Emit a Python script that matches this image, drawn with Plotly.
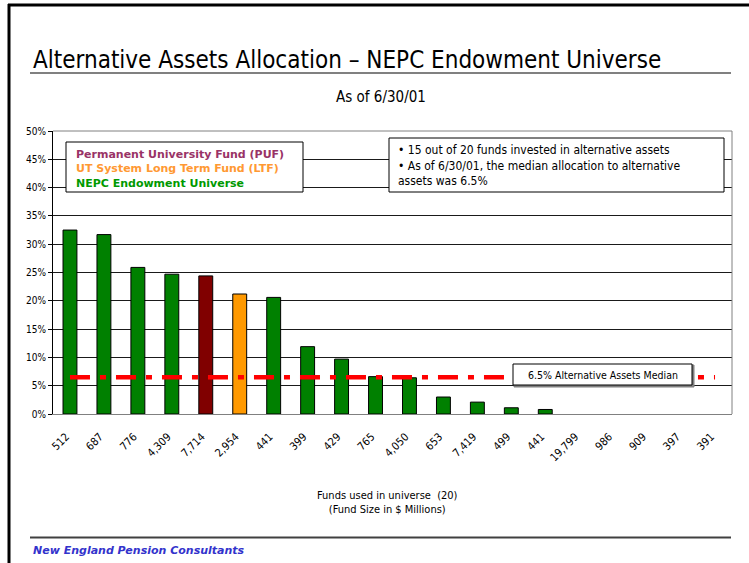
import plotly.graph_objects as go

# ---- data ----
fund_sizes = ["512", "687", "776", "4,309", "7,714", "2,954", "441", "399", "429", "765",
              "4,050", "653", "7,419", "499", "441", "19,799", "986", "909", "397", "391"]
allocation_pct = [32.5, 31.7, 25.9, 24.7, 24.4, 21.2, 20.6, 11.9, 9.7, 6.6,
                  6.4, 3.0, 2.1, 1.1, 0.8, 0, 0, 0, 0, 0]
fund_group = ["NEPC", "NEPC", "NEPC", "NEPC", "PUF", "LTF", "NEPC", "NEPC", "NEPC", "NEPC",
              "NEPC", "NEPC", "NEPC", "NEPC", "NEPC", "NEPC", "NEPC", "NEPC", "NEPC", "NEPC"]
median_pct = 6.5
y_ticks = [0, 5, 10, 15, 20, 25, 30, 35, 40, 45, 50]

group_colors = {"NEPC": "#008000", "PUF": "#800000", "LTF": "#FF9900"}

W, H = 749, 563
L, R, T, B = 53, 17, 131, 149
PW, PH = W - L - R, H - T - B

def px(x):
    return (x - L) / PW

def py(y):
    return (H - B - y) / PH

xpos = list(range(len(fund_sizes)))

fig = go.Figure()
fig.add_trace(go.Bar(
    x=xpos, y=allocation_pct,
    marker=dict(color=[group_colors[g] for g in fund_group],
                line=dict(color="#000000", width=[1 if v > 0 else 0 for v in allocation_pct])),
    width=0.41, showlegend=False, hoverinfo="skip",
))
fig.add_trace(go.Scatter(
    x=[xpos[0], xpos[-1]], y=[median_pct, median_pct], mode="lines",
    line=dict(color="#FF0000", width=4.5, dash="20px,10px,6px,10px"),
    showlegend=False, hoverinfo="skip",
))

COND = "DejaVu Sans Condensed"
shapes = [
    # page border lines
    dict(type="line", xref="paper", yref="paper", x0=px(8), x1=px(749), y0=py(5), y1=py(5),
         line=dict(color="#000000", width=3)),
    dict(type="line", xref="paper", yref="paper", x0=px(9), x1=px(9), y0=py(4), y1=py(563),
         line=dict(color="#000000", width=3)),
    # title underline
    dict(type="line", xref="paper", yref="paper", x0=px(30), x1=px(731), y0=py(73), y1=py(73),
         line=dict(color="#808080", width=2)),
    # footer line
    dict(type="line", xref="paper", yref="paper", x0=px(30), x1=px(731), y0=py(537.5), y1=py(537.5),
         line=dict(color="#404040", width=2)),
    # plot border top / right
    dict(type="line", xref="paper", yref="paper", x0=0, x1=1, y0=1, y1=1,
         line=dict(color="#808080", width=1)),
    dict(type="line", xref="paper", yref="paper", x0=1, x1=1, y0=0, y1=1,
         line=dict(color="#808080", width=1)),
    # legend box
    dict(type="rect", xref="paper", yref="paper", x0=px(66), x1=px(303), y0=py(192), y1=py(142),
         line=dict(color="#000000", width=1), fillcolor="#FFFFFF", layer="above"),
    # text box
    dict(type="rect", xref="paper", yref="paper", x0=px(389), x1=px(724), y0=py(192), y1=py(138),
         line=dict(color="#000000", width=1), fillcolor="#FFFFFF", layer="above"),
    # median label box
    dict(type="rect", xref="paper", yref="paper", x0=px(514), x1=px(694), y0=py(387), y1=py(365),
         line=dict(color="#808080", width=1), fillcolor="#808080", layer="above"),
    dict(type="rect", xref="paper", yref="paper", x0=px(513), x1=px(692), y0=py(385), y1=py(364),
         line=dict(color="#000000", width=1), fillcolor="#FFFFFF", layer="above"),
]

annotations = [
    dict(text="Alternative Assets Allocation – NEPC Endowment Universe", xref="paper", yref="paper",
         x=px(31), y=py(60), xanchor="left", yanchor="middle", showarrow=False,
         font=dict(family=COND, size=24, color="#000000")),
    dict(text="As of 6/30/01", xref="paper", yref="paper",
         x=px(381), y=py(97), xanchor="center", yanchor="middle", showarrow=False,
         font=dict(family=COND, size=15, color="#000000")),
    dict(text="Permanent University Fund (PUF)", xref="paper", yref="paper",
         x=px(74), y=py(154), xanchor="left", yanchor="middle", showarrow=False,
         font=dict(family="DejaVu Sans", size=11, color="#993366", weight="bold")),
    dict(text="UT System Long Term Fund (LTF)", xref="paper", yref="paper",
         x=px(74), y=py(168.5), xanchor="left", yanchor="middle", showarrow=False,
         font=dict(family="DejaVu Sans", size=11, color="#FF9933", weight="bold")),
    dict(text="NEPC Endowment Universe", xref="paper", yref="paper",
         x=px(74), y=py(183), xanchor="left", yanchor="middle", showarrow=False,
         font=dict(family="DejaVu Sans", size=11, color="#009900", weight="bold")),
    dict(text="• 15 out of 20 funds invested in alternative assets<br>"
              "• As of 6/30/01, the median allocation to alternative<br>"
              "assets was 6.5%", xref="paper", yref="paper",
         x=px(396), y=py(165), xanchor="left", yanchor="middle", align="left", showarrow=False,
         font=dict(family=COND, size=12, color="#000000")),
    dict(text="6.5% Alternative Assets Median", xref="paper", yref="paper",
         x=px(602.5), y=py(375), xanchor="center", yanchor="middle", showarrow=False,
         font=dict(family=COND, size=10.5, color="#000000")),
    dict(text="Funds used in universe  (20)<br>(Fund Size in $ Millions)", xref="paper", yref="paper",
         x=px(387), y=py(502), xanchor="center", yanchor="middle", showarrow=False,
         font=dict(family=COND, size=11, color="#000000")),
    dict(text="<b><i>New England Pension Consultants</i></b>", xref="paper", yref="paper",
         x=px(31), y=py(550), xanchor="left", yanchor="middle", showarrow=False,
         font=dict(family="DejaVu Sans", size=11, color="#3333CC")),
]

fig.update_layout(
    width=W, height=H,
    margin=dict(l=L, r=R, t=T, b=B),
    paper_bgcolor="#FFFFFF", plot_bgcolor="#FFFFFF",
    shapes=shapes, annotations=annotations,
    xaxis=dict(range=[-0.5, len(fund_sizes) - 0.5], tickvals=xpos, ticktext=fund_sizes,
               tickangle=-45, tickfont=dict(family=COND, size=11, color="#000000"),
               showgrid=False, zeroline=False, showline=True, linecolor="#808080", linewidth=1,
               ticks="outside", ticklen=11, tickcolor="rgba(0,0,0,0)", ticklabelshift=-4,
               fixedrange=True),
    yaxis=dict(range=[0, 50], tickvals=y_ticks, ticktext=[f"{v}%" for v in y_ticks],
               tickfont=dict(family=COND, size=10, color="#000000"),
               showgrid=True, gridcolor="#1a1a1a", gridwidth=1, zeroline=False,
               showline=True, linecolor="#000000", linewidth=1,
               ticks="outside", ticklen=4, tickcolor="#000000", fixedrange=True),
)

fig.write_html("out.html", config={"displayModeBar": False},
               post_script="document.body.style.margin='0';document.body.style.overflow='hidden';")
